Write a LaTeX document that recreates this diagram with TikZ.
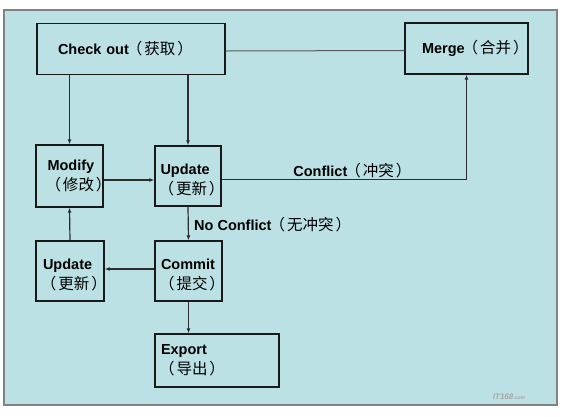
\documentclass[tikz,border=0pt]{standalone}
\usepackage{fontspec}
\setmainfont{Liberation Sans}
\newfontfamily\cjk{Noto Sans CJK SC}
\usetikzlibrary{arrows.meta,calc}
\definecolor{panel}{RGB}{188,225,228}
\definecolor{frame}{RGB}{130,130,130}
\definecolor{boxline}{RGB}{25,25,25}
\definecolor{conn}{RGB}{45,45,45}
% Chinese in full-width parentheses; #1 = kern before the opening parenthesis
\newcommand\zpar[2][-2pt]{{\cjk\mdseries\fontsize{15.5}{20.5}\selectfont\kern#1（\kern-#1#2\kern2pt）\kern-2pt}}
\newcommand\lowstrut{\rule{0pt}{18.6pt}}
\tikzset{
  stepbox/.style={draw=boxline, line width=1.4pt, rectangle, align=left,
    inner ysep=0pt, inner xsep=0pt, font=\fontsize{14.5}{20.5}\selectfont\bfseries},
  conline/.style={draw=conn, line width=1.2pt},
  arr/.style={conline, -{Latex[length=5pt,width=4pt]}},
  lbl/.style={font=\fontsize{14.5}{17}\selectfont\bfseries, inner sep=0pt, anchor=base west}
}
\begin{document}
\begin{tikzpicture}[x=1pt,y=-1pt]
\useasboundingbox (0,0) rectangle (563,416);
\fill[white] (0,0) rectangle (563,416);
\draw[frame, line width=2pt, fill=panel] (3.6,9.7) rectangle (556.5,405);

\node[stepbox, minimum height=51pt, text width=188pt] (checkout) at (131,49)
  {\hspace*{21pt}Check out\zpar{获取}};
\node[stepbox, minimum height=51pt, text width=123pt] (merge) at (466.5,48.5)
  {\hspace*{17pt}Merge\zpar{合并}};
\node[stepbox, minimum height=62pt, text width=67pt] (modify) at (69.5,176)
  {\hspace*{11.5pt}Modify\\\hspace*{11.5pt}\zpar{修改}};
\node[stepbox, minimum height=60pt, text width=66pt] (update) at (188,176)
  {\lowstrut\hspace*{5.5pt}Update\\\hspace*{5.5pt}\zpar{更新}};
\node[stepbox, minimum height=60pt, text width=68pt] (lupdate) at (70,271)
  {\lowstrut\hspace*{7pt}Update\\\hspace*{7pt}\zpar{更新}};
\node[stepbox, minimum height=60pt, text width=67pt] (commit) at (188.5,271)
  {\lowstrut\hspace*{6pt}Commit\\\hspace*{6pt}\zpar{提交}};
\node[stepbox, minimum height=53pt, text width=124pt] (export) at (217,360.5)
  {\hspace*{6pt}Export\\\hspace*{6pt}\zpar{导出}};

\draw[conline, draw=conn!80, line width=1pt] ([yshift=-2pt]checkout.east) -- ([yshift=-2pt]merge.west);
\draw[arr] (checkout.south -| modify.north) -- (modify.north);
\draw[arr] (checkout.south -| update.north) -- (update.north);
\draw[arr] ([yshift=-4pt]modify.east) -- ([yshift=-4pt]update.west);
\draw[arr] ([yshift=-3.5pt]update.east) -| (merge.south);
\node[lbl] (conflict) at ([xshift=71.5pt]update.east) {Conflict\zpar{冲突}};
\draw[arr] (update.south) -- (commit.north);
\node[lbl] (noconflict) at ([xshift=6pt,yshift=-24pt]update.south) {No Conflict\zpar{无冲突}};
\draw[arr] ([yshift=2pt]commit.west) -- ([yshift=2pt]lupdate.east);
\draw[arr] (lupdate.north) -- (modify.south);
\draw[arr] (commit.south) -- (commit.south |- export.north);

\node[font=\fontsize{8}{8}\selectfont\itshape\bfseries, text=gray!70, inner sep=0pt] (wm) at (509,397) {IT168\tiny.com};
\end{tikzpicture}
\end{document}
